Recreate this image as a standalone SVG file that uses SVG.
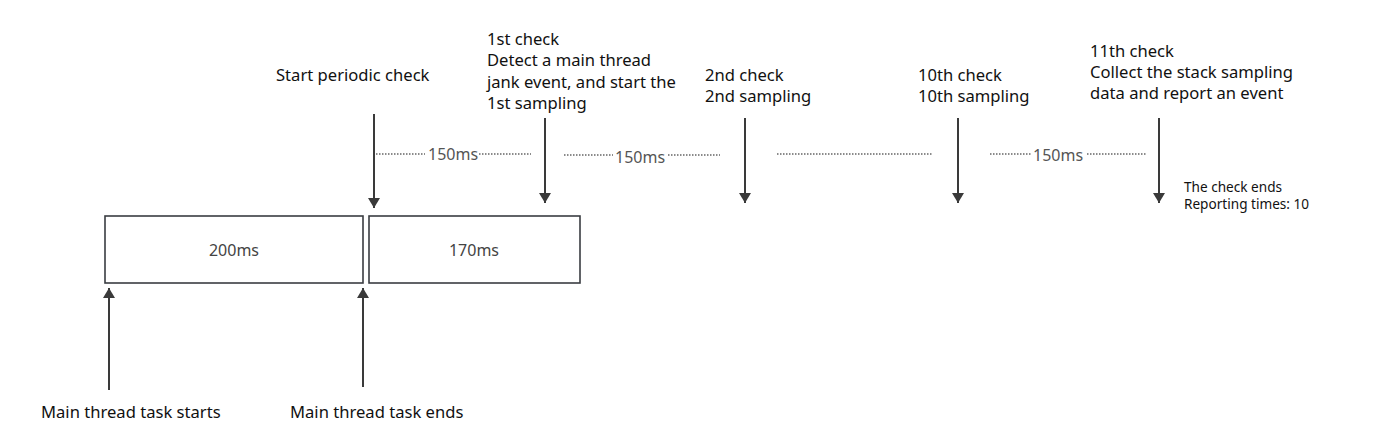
<svg xmlns="http://www.w3.org/2000/svg" width="1373" height="443" viewBox="0 0 1373 443">
<style>
text{font-family:"Noto Sans","Liberation Sans",sans-serif;fill:#111}
.t{font-size:16.6px}
.s{font-size:13.6px}
.ms{font-size:16px;fill:#555}
.bx{fill:#fff;stroke:#3a3d42;stroke-width:1.6}
.bt{font-size:16px;fill:#444;text-anchor:middle}
.ar{stroke:#3a3a3a;stroke-width:2;fill:none}
.dot{stroke:#666;stroke-width:1.5;stroke-dasharray:1.5 1.5;fill:none}
</style>
<defs>
<marker id="ah" viewBox="0 0 10 12" refX="10" refY="6" markerWidth="11" markerHeight="12" markerUnits="userSpaceOnUse" orient="auto">
<path d="M0,0 L10,6 L0,12 z" fill="#3a3a3a"/>
</marker>
</defs>
<g id="box-200">
<rect class="bx" x="105" y="216" width="258" height="67"/>
<text class="bt" x="234" y="256">200ms</text>
</g>
<g id="box-170">
<rect class="bx" x="369" y="216" width="211" height="67"/>
<text class="bt" x="474" y="256">170ms</text>
</g>
<g id="label-start-check"><text class="t" x="276" y="81">Start periodic check</text></g>
<g id="label-1st">
<text class="t" x="487" y="45">1st check</text>
<text class="t" x="487" y="66">Detect a main thread</text>
<text class="t" x="487" y="87.5">jank event, and start the</text>
<text class="t" x="487" y="108.5">1st sampling</text>
</g>
<g id="label-2nd">
<text class="t" x="705" y="81">2nd check</text>
<text class="t" x="705" y="102">2nd sampling</text>
</g>
<g id="label-10th">
<text class="t" x="918" y="81">10th check</text>
<text class="t" x="918" y="102">10th sampling</text>
</g>
<g id="label-11th">
<text class="t" x="1090" y="57">11th check</text>
<text class="t" x="1090" y="78">Collect the stack sampling</text>
<text class="t" x="1090" y="99">data and report an event</text>
</g>
<g id="label-end">
<text class="s" x="1184" y="192">The check ends</text>
<text class="s" x="1184" y="209">Reporting times: 10</text>
</g>
<g id="label-task-start"><text class="t" x="41" y="418">Main thread task starts</text></g>
<g id="label-task-end"><text class="t" x="290" y="418">Main thread task ends</text></g>
<g id="intervals">
<text class="ms" x="428" y="160">150ms</text>
<text class="ms" x="615" y="163">150ms</text>
<text class="ms" x="1033" y="161">150ms</text>
</g>
<g id="connectors">
<line class="ar" x1="374" y1="114" x2="374" y2="208" marker-end="url(#ah)"/>
<line class="ar" x1="545" y1="118" x2="545" y2="203" marker-end="url(#ah)"/>
<line class="ar" x1="745" y1="118" x2="745" y2="203" marker-end="url(#ah)"/>
<line class="ar" x1="958" y1="118" x2="958" y2="203" marker-end="url(#ah)"/>
<line class="ar" x1="1159" y1="118" x2="1159" y2="203" marker-end="url(#ah)"/>
<line class="ar" x1="109" y1="390" x2="109" y2="288" marker-end="url(#ah)"/>
<line class="ar" x1="363" y1="387" x2="363" y2="288" marker-end="url(#ah)"/>
<line class="dot" x1="376" y1="154" x2="425" y2="154"/>
<line class="dot" x1="479" y1="154" x2="531" y2="154"/>
<line class="dot" x1="564" y1="155" x2="613" y2="155"/>
<line class="dot" x1="668" y1="155" x2="720" y2="155"/>
<line class="dot" x1="777" y1="154" x2="933" y2="154"/>
<line class="dot" x1="990" y1="154" x2="1032" y2="154"/>
<line class="dot" x1="1087" y1="154" x2="1146" y2="154"/>
</g>
</svg>
